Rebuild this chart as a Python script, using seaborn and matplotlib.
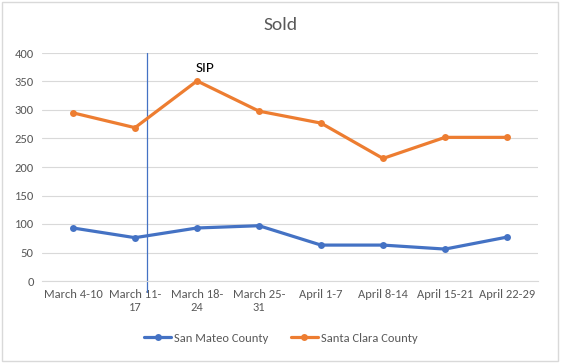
import pandas as pd
import matplotlib.pyplot as plt
import seaborn as sns
from matplotlib.patches import Rectangle

# data
weeks = ["March 4-10", "March 11-\n17", "March 18-\n24", "March 25-\n31",
         "April 1-7", "April 8-14", "April 15-21", "April 22-29"]
san_mateo = [93, 76, 93, 97, 63, 63, 56, 77]
santa_clara = [295, 269, 351, 298, 277, 215, 252, 252]
series = ["San Mateo County", "Santa Clara County"]
colors = ["#4472C4", "#ED7D31"]

df = pd.DataFrame({
    "week": list(range(len(weeks))) * 2,
    "sold": san_mateo + santa_clara,
    "county": [series[0]] * len(weeks) + [series[1]] * len(weeks),
})

sns.set_style("white")
plt.rcParams['font.family'] = ['Calibri', 'Carlito', 'Liberation Sans', 'DejaVu Sans']

fig = plt.figure(figsize=(5.61, 3.63), dpi=100)
ax = fig.add_axes([42 / 561, 1 - 281 / 363, 496 / 561, 228 / 363])

sns.lineplot(data=df, x="week", y="sold", hue="county", palette=colors,
             marker="o", markersize=5, markeredgewidth=0, linewidth=2.3,
             ax=ax, legend=True)

ax.set_xlim(-0.5, len(weeks) - 0.5)
ax.set_ylim(0, 400)
ax.set_yticks(range(0, 401, 50))
ax.set_xticks(range(len(weeks)))
ax.set_xticklabels(weeks)
ax.tick_params(axis="both", colors="#595959", labelsize=9, length=0, pad=6)
ax.grid(axis="y", color="#D9D9D9", linewidth=0.8)
ax.set_axisbelow(True)
for s in ["left", "right", "top"]:
    ax.spines[s].set_visible(False)
ax.spines["bottom"].set_color("#D9D9D9")
ax.set_xlabel("")
ax.set_ylabel("")

# SIP marker line
ax.plot([1.19, 1.19], [400, -19], color="#4472C4", linewidth=0.9, clip_on=False, zorder=1)
ax.text(2.13, 363, "SIP", fontsize=11, color="black", ha="center", va="bottom")

handles, labels = ax.get_legend_handles_labels()
ax.get_legend().remove()
fig.legend(handles, labels, loc="center", bbox_to_anchor=(0.5, 1 - 338 / 363),
           ncol=2, frameon=False, fontsize=9, labelcolor="#595959",
           handlelength=2.2, columnspacing=1.8, handletextpad=0.2)

fig.text(0.5, 1 - 25 / 363, "Sold", ha="center", va="center", fontsize=14, color="#595959")

fig.patches.append(Rectangle((0.004, 0.006), 0.99, 0.988, transform=fig.transFigure,
                             fill=False, edgecolor="#D9D9D9", linewidth=1))

fig.savefig("out.png", dpi=100)
